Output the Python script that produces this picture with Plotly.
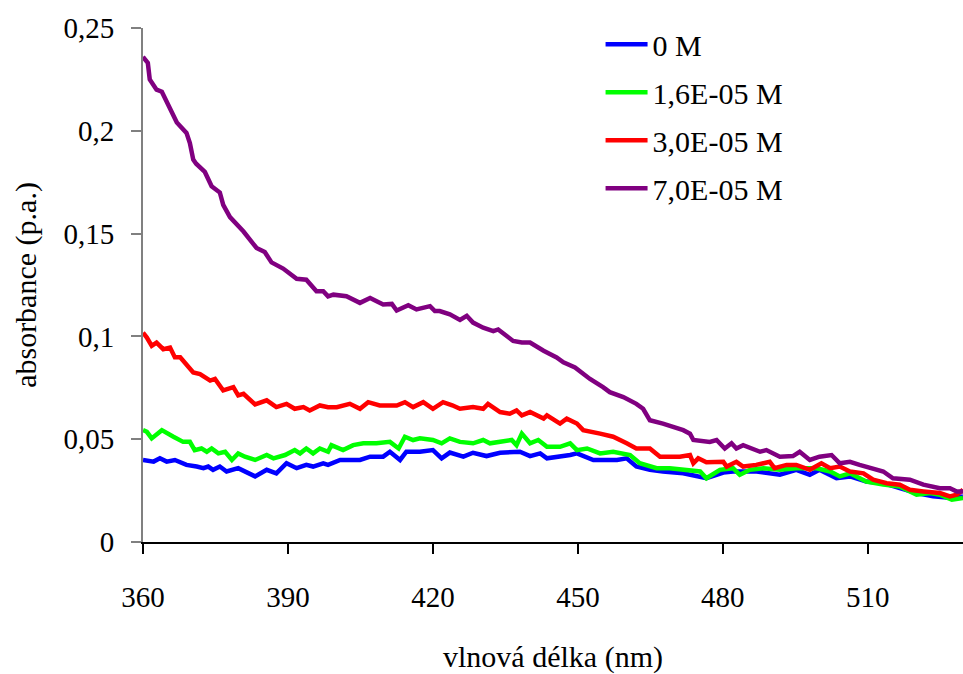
import plotly.graph_objects as go

# ---- data ----
x_purple = [360, 361, 361.4, 362.8, 363.9, 365.9, 367, 369, 369.7, 370.4, 371, 372.8, 374.2, 375.9, 376.6,
            378, 380.8, 383.5, 385.2, 386.6, 389, 391.8, 393.8, 395.9, 397.3, 398.3, 399.4, 402.1, 404.9,
            407, 409.7, 411.5, 412.5, 414.9, 416.6, 419.4, 420.4, 421.4, 423.5, 425.6, 427, 428.3, 430.4,
            432.5, 433.5, 436.6, 438.4, 440.1, 442.9, 445.6, 447, 449.4, 452.5, 455.2, 456.6, 459.4, 462.1,
            463.5, 464.9, 467.6, 471.8, 473.2, 473.9, 477.3, 478.7, 480.4, 481.8, 482.8, 484.2, 487.7, 489,
            491.8, 494.5, 495.9, 498, 500, 502.5, 504.2, 506.3, 508.3, 511.1, 513.2, 515.2, 518.7, 521.5,
            524.9, 527, 528.4, 529.7]
y_purple = [0.236, 0.233, 0.225, 0.220, 0.219, 0.210, 0.204, 0.199, 0.194, 0.186, 0.184, 0.180, 0.173, 0.170, 0.164,
            0.158, 0.151, 0.143, 0.141, 0.136, 0.133, 0.128, 0.1276, 0.122, 0.122, 0.1195, 0.1203, 0.1195, 0.1163,
            0.1187, 0.1155, 0.1158, 0.1126, 0.1152, 0.1131, 0.1147, 0.1123, 0.1123, 0.1107, 0.108, 0.110, 0.1067, 0.1042,
            0.1026, 0.1034, 0.0978, 0.097, 0.097, 0.093, 0.0898, 0.0874, 0.0849, 0.0793, 0.0753, 0.0729, 0.0705, 0.0672,
            0.0648, 0.0592, 0.0576, 0.0544, 0.0527, 0.0496, 0.0487, 0.0496, 0.0455, 0.048, 0.0455, 0.0471, 0.0439, 0.0447,
            0.0415, 0.0418, 0.0439, 0.0399, 0.0415, 0.0423, 0.0383, 0.039, 0.0375, 0.0359, 0.0343, 0.031, 0.0303, 0.0279,
            0.0262, 0.0262, 0.0246, 0.0246]

x_red = [360, 360.8, 361.8, 362.8, 364.2, 365.6, 366.6, 367.7, 370.4, 371.8, 373.9, 374.9, 376.6, 378.7, 379.7,
         380.8, 383.2, 385.6, 387.6, 389.7, 391.4, 393.2, 394.5, 396.6, 398.3, 400.1, 402.8, 404.9, 406.6, 409,
         412.5, 414.2, 415.9, 418, 420, 422.1, 424, 425.6, 428.3, 430.4, 431.4, 433.9, 435.9, 437.3, 438.4,
         440.1, 442.9, 443.6, 446.3, 447.7, 449.8, 451.1, 454.6, 457.3, 460.1, 462.1, 464.9, 467, 471.1, 473.2,
         473.9, 474.9, 476.6, 480.1, 480.8, 482.8, 484.2, 486.9, 489.7, 490.7, 493.2, 495.2, 498, 499.4, 500.4,
         502.2, 504.2, 506.3, 509.1, 511.1, 513.9, 516.6, 518.7, 521.5, 524.9, 527, 528.4, 529.7]
y_red = [0.1018, 0.0994, 0.0954, 0.097, 0.0938, 0.0946, 0.0898, 0.0898, 0.0825, 0.0817, 0.0785, 0.0793, 0.0737, 0.0753, 0.0713,
         0.0721, 0.0669, 0.0689, 0.0656, 0.0672, 0.0648, 0.0656, 0.064, 0.0664, 0.0656, 0.0656, 0.0672, 0.0648, 0.068, 0.0664,
         0.0664, 0.068, 0.0656, 0.068, 0.0648, 0.068, 0.0665, 0.0648, 0.0656, 0.0648, 0.0672, 0.0632, 0.0624, 0.064, 0.0616,
         0.0632, 0.060, 0.0616, 0.0576, 0.060, 0.0576, 0.0544, 0.0527, 0.0512, 0.048, 0.0455, 0.0455, 0.0415, 0.0415, 0.0423,
         0.0383, 0.0407, 0.0388, 0.039, 0.0367, 0.039, 0.0367, 0.0375, 0.039, 0.0359, 0.0375, 0.0375, 0.0351, 0.0367, 0.0383,
         0.0359, 0.0367, 0.0343, 0.0334, 0.0303, 0.0286, 0.0279, 0.0254, 0.0246, 0.0238, 0.0222, 0.023, 0.0254]

x_green = [360, 360.8, 361.8, 363.9, 366.3, 368.3, 369.7, 370.7, 372.1, 373.2, 374.2, 375.6, 377, 378.4, 379.7,
           381.1, 383.2, 385.6, 387, 389.4, 391.4, 392.5, 393.8, 395.2, 396.6, 398.3, 399, 401.4, 403.5, 405.6,
           408.3, 411.1, 412.9, 414.2, 415.9, 417.3, 420, 421.8, 423.5, 425.6, 428.3, 430.4, 431.8, 436.3, 437.3,
           438.4, 440.1, 441.8, 443.6, 446.3, 448.4, 449.8, 451.9, 454.6, 457.3, 460.8, 462.8, 466.3, 469, 471.8,
           475.3, 476.6, 479.4, 482.1, 483.5, 485.6, 488.4, 491.8, 495.2, 499.4, 502.2, 504.2, 506.3, 509.7, 513.2,
           516.6, 520.1, 522.9, 524.9, 527.4, 529.7]
y_green = [0.0544, 0.0536, 0.0504, 0.0544, 0.0512, 0.0487, 0.0487, 0.0447, 0.0455, 0.0439, 0.0455, 0.0431, 0.0439, 0.0399, 0.0431,
           0.0415, 0.0399, 0.0423, 0.0407, 0.0423, 0.0447, 0.0431, 0.0455, 0.0431, 0.0455, 0.0439, 0.0471, 0.0447, 0.0471, 0.048,
           0.048, 0.0487, 0.0455, 0.0512, 0.0496, 0.0504, 0.0496, 0.048, 0.0504, 0.0487, 0.048, 0.0496, 0.048, 0.0496, 0.0471,
           0.0527, 0.048, 0.0496, 0.0463, 0.0463, 0.048, 0.0447, 0.0455, 0.0431, 0.0439, 0.0423, 0.0383, 0.0359, 0.0359, 0.0351,
           0.0343, 0.031, 0.0351, 0.0359, 0.0327, 0.0351, 0.0359, 0.0351, 0.0359, 0.0359, 0.0343, 0.0319, 0.0334, 0.0294, 0.0279,
           0.027, 0.023, 0.0238, 0.023, 0.0206, 0.0214]

x_blue = [360, 362.2, 363.5, 364.9, 366.6, 369, 371.1, 372.5, 373.5, 374.5, 375.9, 377.3, 379.7, 381.1, 383.2,
          385.6, 387.6, 389.7, 391.8, 393.8, 395.2, 397.3, 398.3, 400.8, 404.9, 407, 409.7, 411.1, 413.2, 414.5,
          417.3, 420, 421.8, 423.5, 426.3, 428.3, 431.1, 433.9, 438, 440.1, 442.2, 443.6, 446.3, 448.4, 449.8,
          453.2, 458.1, 460.1, 462.1, 464.9, 467.6, 471.8, 476.6, 480.1, 482.1, 487, 491.8, 495.2, 498, 500,
          503.5, 506.3, 509.7, 513.2, 516.6, 520.1, 523.5, 527.4, 529.7]
y_blue = [0.0399, 0.0391, 0.0407, 0.0391, 0.0399, 0.0375, 0.0367, 0.0359, 0.0367, 0.0351, 0.0367, 0.0343, 0.0359, 0.0343, 0.0319,
          0.0351, 0.0334, 0.0383, 0.0359, 0.0375, 0.0367, 0.0383, 0.0375, 0.0399, 0.0399, 0.0415, 0.0415, 0.0439, 0.0399, 0.0439,
          0.0439, 0.0447, 0.0407, 0.0435, 0.0415, 0.0434, 0.0418, 0.0434, 0.0439, 0.0418, 0.0431, 0.0407, 0.0415, 0.0423, 0.0431,
          0.0399, 0.0399, 0.0407, 0.0367, 0.0351, 0.0343, 0.0334, 0.031, 0.0338, 0.0343, 0.0343, 0.0327, 0.0351, 0.0327, 0.0351,
          0.031, 0.0319, 0.0294, 0.0286, 0.0262, 0.0238, 0.0222, 0.0214, 0.0222]

series_names = ["0 M", "1,6E-05 M", "3,0E-05 M", "7,0E-05 M"]
series_x = [x_blue, x_green, x_red, x_purple]
series_y = [y_blue, y_green, y_red, y_purple]
series_colors = ["#0000FF", "#00FF00", "#FF0000", "#800080"]

x_ticks = [360, 390, 420, 450, 480, 510]

FONT = "Liberation Serif, Times New Roman, serif"

fig = go.Figure()
for name, xs, ys, col in zip(series_names, series_x, series_y, series_colors):
    fig.add_trace(go.Scatter(x=xs, y=ys, mode="lines", name=name, legendgroup=name,
                             line=dict(color=col, width=4.5)))

fig.update_layout(
    width=963, height=674,
    margin=dict(l=143, r=0, t=28, b=128),
    paper_bgcolor="white", plot_bgcolor="white",
    separators=", ",
    font=dict(family=FONT, size=29, color="black"),
    showlegend=True,
    legend=dict(x=0.558, y=1.019, xanchor="left", yanchor="top",
                font=dict(family=FONT, size=30, color="black"),
                bgcolor="rgba(0,0,0,0)", tracegroupgap=6, itemwidth=42),
    xaxis=dict(range=[360, 529.7], tickvals=x_ticks, showgrid=False, zeroline=False,
               showline=True, linecolor="black", linewidth=1.5,
               ticks="outside", ticklen=10, tickcolor="black", tickwidth=1.5,
               ticklabelstandoff=18,
               tickfont=dict(family=FONT, size=29),
               title=dict(text="vlnová délka (nm)", font=dict(family=FONT, size=30), standoff=40)),
    yaxis=dict(range=[0, 0.25], dtick=0.05, showgrid=False, zeroline=False,
               showline=True, linecolor="#808080", linewidth=2,
               ticks="outside", ticklen=10, tickcolor="#808080", tickwidth=1.5,
               ticklabelstandoff=11,
               tickfont=dict(family=FONT, size=29),
               title=dict(text="absorbance (p.a.)", font=dict(family=FONT, size=30), standoff=18)),
)

fig.write_html("out.html")
